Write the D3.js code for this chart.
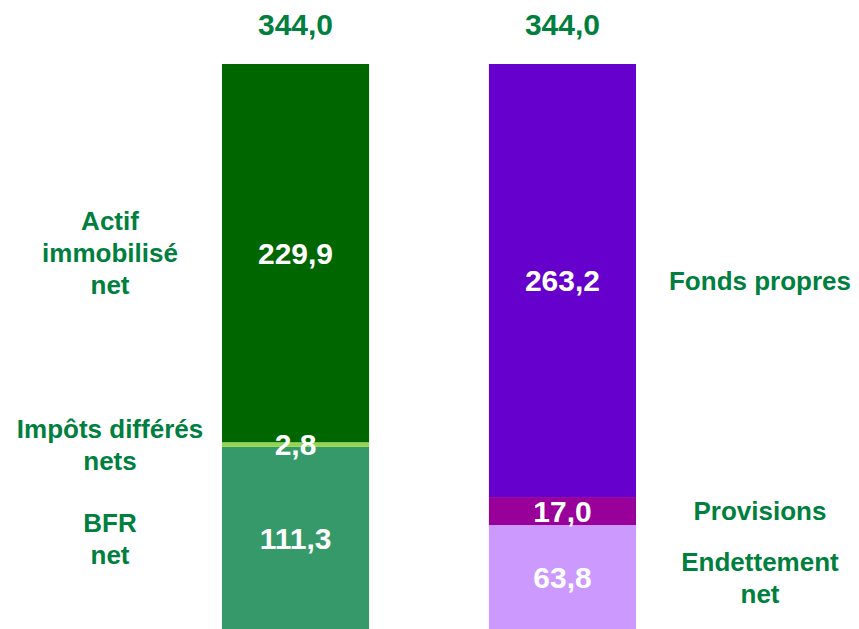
<!DOCTYPE html>
<html>
<head>
<meta charset="utf-8">
<script src="https://cdn.jsdelivr.net/npm/d3@7"></script>
<style>
  html, body { margin: 0; padding: 0; background: #fff; }
  svg { display: block; }
  text { font-family: "Liberation Sans", Arial, sans-serif; font-weight: bold; }
</style>
</head>
<body>
<script>
// ---- data ----
const barNames = ["Actif", "Passif"];
const actifLabels = [["BFR", "net"], ["Impôts différés", "nets"], ["Actif", "immobilisé", "net"]];
const actifValues = [111.3, 2.8, 229.9];
const passifLabels = [["Endettement", "net"], ["Provisions"], ["Fonds propres"]];
const passifValues = [63.8, 17.0, 263.2];

// ---- styles ----
const actifColors = ["#36996A", "#96D450", "#006600"];
const passifColors = ["#CC99FF", "#990099", "#6600CC"];
const textGreen = "#007F3F";

const W = 859, H = 629;
const svg = d3.select("body").append("svg").attr("width", W).attr("height", H);

const loc = d3.formatLocale({decimal: ",", thousands: " ", grouping: [3], currency: ["", "€"]});
const fmt = loc.format(".1f");

const x = d3.scaleBand().domain(barNames).range([222, 636]).paddingInner(0.449).paddingOuter(0);
const total = Math.max(d3.sum(actifValues), d3.sum(passifValues));
const y = d3.scaleLinear().domain([0, total]).range([630, 64]);

const bars = [
  {name: "Actif", values: actifValues, labels: actifLabels, colors: actifColors, side: "left"},
  {name: "Passif", values: passifValues, labels: passifLabels, colors: passifColors, side: "right"}
];

const lineH = 32;

bars.forEach(b => {
  let acc = 0;
  const segs = b.values.map((v, i) => {
    const s = {y0: acc, y1: acc + v, v, label: b.labels[i], color: b.colors[i]};
    acc += v;
    return s;
  });
  const x0 = x(b.name), bw = x.bandwidth();
  const g = svg.append("g");

  g.selectAll("rect").data(segs).join("rect")
    .attr("x", x0).attr("width", bw)
    .attr("y", d => y(d.y1)).attr("height", d => y(d.y0) - y(d.y1))
    .attr("fill", d => d.color);

  // value labels
  g.selectAll("text.val").data(segs).join("text")
    .attr("class", "val")
    .attr("x", x0 + bw / 2)
    .attr("y", d => (y(d.y0) + y(d.y1)) / 2)
    .attr("dy", "0.36em")
    .attr("text-anchor", "middle")
    .attr("fill", "#fff")
    .style("font-size", "30px")
    .text(d => fmt(d.v));

  // category labels
  const lx = b.side === "left" ? 110 : 760;
  segs.forEach(d => {
    const cy = (y(d.y0) + y(d.y1)) / 2;
    const n = d.label.length;
    const t = g.append("text")
      .attr("text-anchor", "middle")
      .attr("fill", textGreen)
      .style("font-size", "26px");
    d.label.forEach((line, i) => {
      t.append("tspan")
        .attr("x", lx)
        .attr("y", cy + (i - (n - 1) / 2) * lineH)
        .attr("dy", "0.36em")
        .text(line);
    });
  });

  // total label
  g.append("text")
    .attr("x", x0 + bw / 2)
    .attr("y", y(acc) - 29)
    .attr("text-anchor", "middle")
    .attr("fill", textGreen)
    .style("font-size", "30px")
    .text(fmt(acc));
});
</script>
</body>
</html>
